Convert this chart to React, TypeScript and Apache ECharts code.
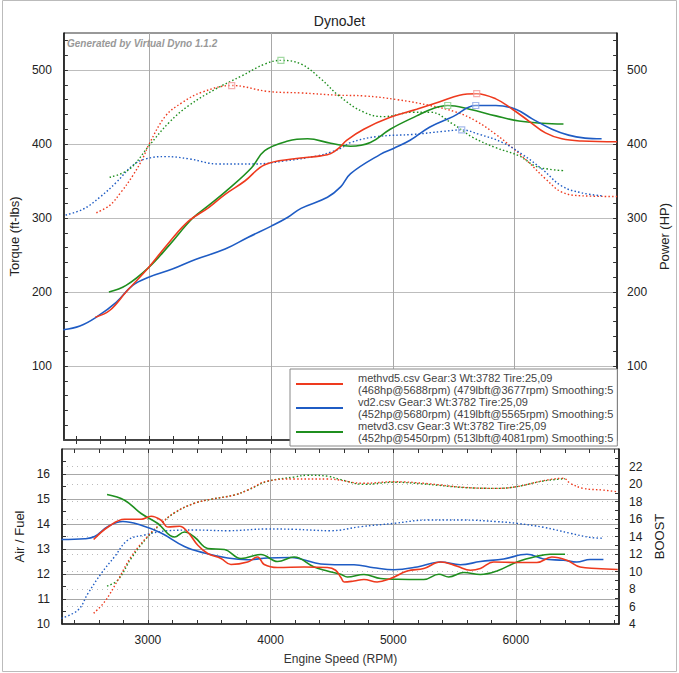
import React, { useEffect, useRef } from "react";
import * as echarts from "echarts";

// ---------- axis ranges / ticks ----------
const rpmMin = 2300;
const rpmMax = 6840;
const rpmLabels = [3000, 4000, 5000, 6000];
const rpmMinorTicks = [2400, 2600, 2800, 3000, 3200, 3400, 3600, 3800, 4000, 4200, 4400, 4600, 4800, 5000, 5200, 5400, 5600, 5800, 6000, 6200, 6400, 6600, 6800];
const torqueLabels = [100, 200, 300, 400, 500];
const torqueMinorTicks = [20, 40, 60, 80, 100, 120, 140, 160, 180, 200, 220, 240, 260, 280, 300, 320, 340, 360, 380, 400, 420, 440, 460, 480, 500, 520, 540];
const afrLabels = [10, 11, 12, 13, 14, 15, 16];
const afrMinorTicks = [10.5, 11, 11.5, 12, 12.5, 13, 13.5, 14, 14.5, 15, 15.5, 16, 16.5];
const boostLabels = [4, 6, 8, 10, 12, 14, 16, 18, 20, 22];
const boostGrid = [6, 8, 10, 12, 14, 16, 18, 20, 22];
const boostMinorTicks = [5, 6, 7, 8, 9, 10, 11, 12, 13, 14, 15, 16, 17, 18, 19, 20, 21, 22, 23];

// ---------- legend text ----------
const runNames = ["methvd5", "vd2", "metvd3"];
const runLegend = [
  "methvd5.csv Gear:3 Wt:3782 Tire:25,09\n(468hp@5688rpm) (479lbft@3677rpm) Smoothing:5",
  "vd2.csv Gear:3 Wt:3782 Tire:25,09\n(452hp@5680rpm) (419lbft@5565rpm) Smoothing:5",
  "metvd3.csv Gear:3 Wt:3782 Tire:25,09\n(452hp@5450rpm) (513lbft@4081rpm) Smoothing:5",
];

// ---------- data: [rpm, value] ----------
const methvd5Hp = [[2558,166],[2675,175],[2810,200],[2995,233],[3163,267],[3325,296],[3488,314],[3623,332],[3785,350],[3948,372],[4192,380],[4409,384],[4490,387],[4560,395],[4620,405],[4761,420],[4978,436],[5195,447],[5385,457],[5547,466],[5688,468],[5845,461],[5981,447],[6116,431],[6252,415],[6387,407],[6550,404],[6840,403]];
const methvd5Tq = [[2566,307],[2675,317],[2769,335],[2864,357],[2945,380],[3000,400],[3135,438],[3271,456],[3433,470],[3677,479],[3975,471],[4246,469],[4545,466],[4761,465],[5033,460],[5304,452],[5521,443],[5683,431],[5845,413],[5981,395],[6116,375],[6252,353],[6387,335],[6550,330],[6840,329]];
const vd2Hp = [[2295,149],[2431,154],[2566,166],[2729,186],[2864,209],[2995,220],[3190,231],[3379,244],[3623,258],[3813,274],[4002,289],[4138,301],[4246,313],[4463,328],[4571,342],[4653,360],[4897,386],[5005,394],[5141,405],[5304,423],[5493,437],[5680,452],[5845,452],[6008,447],[6144,434],[6306,420],[6442,412],[6577,408],[6713,407]];
const vd2Tq = [[2314,304],[2458,312],[2594,328],[2729,348],[2864,371],[2972,380],[3135,383],[3325,380],[3569,373],[3867,373],[4111,377],[4382,384],[4490,389],[4571,394],[4653,402],[4869,410],[5168,413],[5412,417],[5565,419],[5710,413],[5900,402],[6062,386],[6225,366],[6387,343],[6550,334],[6713,330]];
const metvd3Hp = [[2669,200],[2810,209],[2995,233],[3163,263],[3352,299],[3488,317],[3650,339],[3840,368],[3948,391],[4138,404],[4300,407],[4490,401],[4653,397],[4815,402],[4978,420],[5195,438],[5331,448],[5450,452],[5629,447],[5845,438],[6035,431],[6225,428],[6400,427]];
const metvd3Tq = [[2675,355],[2837,366],[3000,398],[3163,429],[3325,452],[3542,474],[3759,492],[3948,508],[4081,513],[4246,508],[4409,488],[4558,465],[4761,443],[4924,437],[5168,443],[5304,443],[5493,427],[5656,409],[5845,395],[6035,384],[6171,370],[6279,366],[6400,364]];

const methvd5Peaks = [[3677,479],[5688,468]];
const vd2Peaks = [[5565,419],[5680,452]];
const metvd3Peaks = [[4081,513],[5450,452]];

const methvd5Afr = [[2558,13.38],[2675,13.88],[2810,14.19],[2945,14.19],[3027,14.31],[3108,14.15],[3163,13.88],[3258,13.91],[3325,13.68],[3407,13.15],[3488,12.82],[3596,12.62],[3677,12.38],[3813,12.48],[3894,12.68],[3948,12.38],[4057,12.26],[4273,12.28],[4463,12.26],[4530,12.15],[4575,11.85],[4600,11.68],[4680,11.72],[4761,11.78],[4869,11.68],[4978,11.82],[5114,12.12],[5249,12.22],[5385,12.48],[5521,12.31],[5629,12.15],[5710,12.22],[5818,12.48],[6008,12.46],[6171,12.46],[6293,12.68],[6415,12.55],[6523,12.28],[6658,12.22],[6830,12.18]];
const vd2Afr = [[2295,13.38],[2485,13.41],[2566,13.5],[2675,13.9],[2797,14.1],[2945,13.95],[3108,13.64],[3298,13.1],[3460,12.84],[3650,12.64],[3813,12.57],[3975,12.64],[4165,12.66],[4246,12.6],[4409,12.4],[4571,12.37],[4680,12.37],[4842,12.25],[5005,12.17],[5195,12.28],[5385,12.48],[5547,12.37],[5710,12.5],[5900,12.6],[6090,12.79],[6225,12.6],[6387,12.55],[6496,12.48],[6604,12.58],[6713,12.58]];
const metvd3Afr = [[2667,15.18],[2810,14.95],[2945,14.42],[3081,14.02],[3217,13.48],[3298,13.68],[3379,13.48],[3488,13.02],[3623,12.98],[3759,12.62],[3921,12.78],[4057,12.5],[4192,12.68],[4355,12.28],[4463,12.12],[4571,11.99],[4626,11.88],[4761,11.98],[4897,11.82],[5033,11.79],[5249,11.78],[5372,11.99],[5452,11.88],[5575,12.06],[5710,11.98],[5845,12.12],[6008,12.48],[6171,12.71],[6279,12.79],[6400,12.79]];

const methvd5Boost = [[2558,5.22],[2648,6.55],[2756,9.03],[2864,11.7],[2995,13.98],[3108,15.5],[3217,16.72],[3379,17.8],[3515,18.25],[3704,18.74],[3813,19.3],[3975,20.34],[4192,20.57],[4463,20.57],[4761,20.08],[5005,20.26],[5249,20.08],[5575,19.62],[5845,19.5],[6008,19.7],[6225,20.38],[6387,20.65],[6442,20.08],[6550,19.5],[6713,19.3],[6835,19.1]];
const vd2Boost = [[2295,4.65],[2431,5.6],[2512,7.5],[2621,9.8],[2729,11.7],[2837,13.6],[2972,14.17],[3163,14.66],[3379,14.74],[3650,14.66],[3975,14.86],[4192,14.82],[4490,14.66],[4734,15.12],[5005,15.5],[5276,15.88],[5575,15.88],[5845,15.7],[6008,15.5],[6225,15.05],[6442,14.37],[6604,13.9],[6713,13.8]];
const metvd3Boost = [[2667,8.34],[2756,9.03],[2864,11.5],[2995,13.9],[3108,15.45],[3217,16.7],[3379,17.8],[3515,18.25],[3704,18.74],[3813,19.3],[3975,20.3],[4192,20.8],[4300,21.0],[4463,20.9],[4571,20.5],[4761,19.96],[5005,20.2],[5249,20.0],[5575,19.6],[5845,19.5],[6008,19.7],[6225,20.35],[6400,20.6]];

const RED = "#ee3a1e";
const BLUE = "#1f5cc4";
const GREEN = "#1f8f1f";
const RED_L = "#f29a9a";
const BLUE_L = "#8fa8e6";
const GREEN_L = "#8ccf8c";

const FONT = "Liberation Sans";

export default function App() {
  const ref = useRef<HTMLDivElement>(null);

  useEffect(() => {
    if (!ref.current) return;
    const chart = echarts.init(ref.current, null, { renderer: "svg" });

    const labelStyle = { fontFamily: FONT, fontSize: 12, color: "#222" };
    const nameStyle = { fontFamily: FONT, fontSize: 13, color: "#222" };
    const plain = (v: number) => String(v);

    const minorX = (gridIndex: number, position: string) => ({
      type: "value", gridIndex, position, min: rpmMin, max: rpmMax,
      axisLine: { show: false }, axisLabel: { show: false }, splitLine: { show: false },
      axisTick: { show: true, inside: true, length: 4, customValues: rpmMinorTicks, lineStyle: { color: "#333" } },
    });
    const minorY = (gridIndex: number, position: string, min: number, max: number, vals: number[]) => ({
      type: "value", gridIndex, position, min, max,
      axisLine: { show: false }, axisLabel: { show: false }, splitLine: { show: false },
      axisTick: { show: true, inside: true, length: 4, customValues: vals, lineStyle: { color: "#333" } },
    });

    const solid = (name: string, data: number[][], color: string, xi: number, yi: number) => ({
      type: "line", name, data, xAxisIndex: xi, yAxisIndex: yi, smooth: 0.4, showSymbol: false,
      lineStyle: { color, width: 1.6 }, itemStyle: { color }, z: 3,
    });
    const dotted = (name: string, data: number[][], color: string, xi: number, yi: number) => ({
      type: "line", name, data, xAxisIndex: xi, yAxisIndex: yi, smooth: 0.4, showSymbol: false,
      lineStyle: { color, width: 1.4, type: [1.5, 2.2] }, itemStyle: { color }, z: 2,
    });
    const peaks = (name: string, data: number[][], color: string) => ({
      type: "scatter", name, data, xAxisIndex: 0, yAxisIndex: 0, symbol: "rect", symbolSize: 6,
      itemStyle: { color: "rgba(255,255,255,0.4)", borderColor: color, borderWidth: 1.2 }, z: 5,
    });

    chart.setOption({
      animation: false,
      backgroundColor: "#fff",
      title: {
        text: "DynoJet", left: "center", top: 9,
        textStyle: { fontFamily: FONT, fontSize: 14, fontWeight: "normal", color: "#222" },
      },
      graphic: [
        { type: "rect", shape: { x: 2.5, y: 0.5, width: 674, height: 671 }, style: { fill: "none", stroke: "#bbb", lineWidth: 1 }, silent: true },
        { type: "text", left: 67, top: 38, style: { text: "Generated by Virtual Dyno 1.1.2", fill: "#999", font: "italic bold 10px Liberation Sans" }, z: 10 },
      ],
      legend: {
        data: runNames.map((n, i) => ({ name: n, itemStyle: { color: [RED, BLUE, GREEN][i] } })),
        formatter: (n: string) => runLegend[runNames.indexOf(n)],
        orient: "vertical", left: 290, top: 369,
        icon: "rect", itemWidth: 47, itemHeight: 2, itemGap: 0,
        padding: [3, 4, 2, 6],
        backgroundColor: "#fff", borderColor: "#888", borderWidth: 1,
        selectedMode: false,
        textStyle: { fontFamily: FONT, fontSize: 11, lineHeight: 12, color: "#444", padding: [0, 0, 0, 10] },
      },
      grid: [
        { left: 62, top: 33, width: 557, height: 407, show: true, borderColor: "#333", borderWidth: 1 },
        { left: 62, top: 449, width: 557, height: 175, show: true, borderColor: "#333", borderWidth: 1 },
      ],
      xAxis: [
        {
          type: "value", gridIndex: 0, position: "bottom", min: rpmMin, max: rpmMax,
          axisLine: { show: true, lineStyle: { color: "#444", width: 2 } },
          axisLabel: { show: false },
          axisTick: { show: false, customValues: rpmLabels },
          splitLine: { show: true, lineStyle: { color: "#a8a8a8", width: 1 } },
        },
        minorX(0, "bottom"),
        minorX(0, "top"),
        {
          type: "value", gridIndex: 1, position: "bottom", min: rpmMin, max: rpmMax,
          axisLine: { show: true, lineStyle: { color: "#222", width: 1.5 } },
          axisLabel: { show: true, customValues: rpmLabels, margin: 10, formatter: plain, ...labelStyle },
          axisTick: { show: false, customValues: rpmLabels },
          splitLine: { show: true, lineStyle: { color: "#a8a8a8", width: 1 } },
          name: "Engine Speed (RPM)", nameLocation: "middle", nameGap: 29,
          nameTextStyle: { fontFamily: FONT, fontSize: 12, color: "#333" },
        },
        minorX(1, "bottom"),
        minorX(1, "top"),
      ],
      yAxis: [
        {
          type: "value", gridIndex: 0, position: "left", min: 0, max: 550,
          axisLine: { show: true, lineStyle: { color: "#111", width: 1.5 } },
          axisLabel: { show: true, customValues: torqueLabels, margin: 12, formatter: plain, ...labelStyle },
          axisTick: { show: false, customValues: torqueLabels },
          splitLine: { show: true, lineStyle: { color: "#bdbdbd", width: 1 } },
          name: "Torque (ft-lbs)", nameLocation: "middle", nameRotate: 90, nameGap: 38, nameTextStyle: nameStyle,
        },
        {
          type: "value", gridIndex: 0, position: "right", min: 0, max: 550,
          axisLine: { show: true, lineStyle: { color: "#111", width: 1.5 } },
          axisLabel: { show: true, customValues: torqueLabels, margin: 10, formatter: plain, ...labelStyle },
          axisTick: { show: false, customValues: torqueLabels },
          splitLine: { show: false },
          name: "Power (HP)", nameLocation: "middle", nameRotate: 90, nameGap: 35, nameTextStyle: nameStyle,
        },
        minorY(0, "left", 0, 550, torqueMinorTicks),
        minorY(0, "right", 0, 550, torqueMinorTicks),
        {
          type: "value", gridIndex: 1, position: "left", min: 10, max: 17,
          axisLine: { show: true, lineStyle: { color: "#111", width: 1.5 } },
          axisLabel: { show: true, customValues: afrLabels, margin: 12, formatter: plain, ...labelStyle },
          axisTick: { show: false, customValues: afrLabels },
          splitLine: { show: true, lineStyle: { color: "#a8a8a8", width: 1 } },
          name: "Air / Fuel", nameLocation: "middle", nameRotate: 90, nameGap: 36, nameTextStyle: nameStyle,
        },
        {
          type: "value", gridIndex: 1, position: "right", min: 4, max: 24,
          axisLine: { show: true, lineStyle: { color: "#111", width: 1.5 } },
          axisLabel: { show: true, customValues: boostLabels, margin: 10, formatter: plain, ...labelStyle },
          axisTick: { show: false, customValues: boostGrid },
          splitLine: { show: true, lineStyle: { color: "#bbb", width: 1, type: [1, 4] } },
          name: "BOOST", nameLocation: "middle", nameRotate: 90, nameGap: 30, nameTextStyle: nameStyle,
        },
        minorY(1, "left", 10, 17, afrMinorTicks),
        minorY(1, "right", 4, 24, boostMinorTicks),
      ],
      series: [
        dotted("methvd5", methvd5Tq, RED, 0, 0),
        dotted("vd2", vd2Tq, BLUE, 0, 0),
        dotted("metvd3", metvd3Tq, GREEN, 0, 0),
        solid("metvd3", metvd3Hp, GREEN, 0, 1),
        solid("vd2", vd2Hp, BLUE, 0, 1),
        solid("methvd5", methvd5Hp, RED, 0, 1),
        peaks("methvd5", methvd5Peaks, RED_L),
        peaks("vd2", vd2Peaks, BLUE_L),
        peaks("metvd3", metvd3Peaks, GREEN_L),
        dotted("vd2", vd2Boost, BLUE, 3, 5),
        dotted("metvd3", metvd3Boost, GREEN, 3, 5),
        dotted("methvd5", methvd5Boost, RED, 3, 5),
        solid("vd2", vd2Afr, BLUE, 3, 4),
        solid("metvd3", metvd3Afr, GREEN, 3, 4),
        solid("methvd5", methvd5Afr, RED, 3, 4),
      ],
    });

    return () => chart.dispose();
  }, []);

  return (
    <div
      ref={ref}
      style={{ position: "fixed", left: 0, top: 0, width: 679, height: 673, background: "#fff" }}
    />
  );
}
